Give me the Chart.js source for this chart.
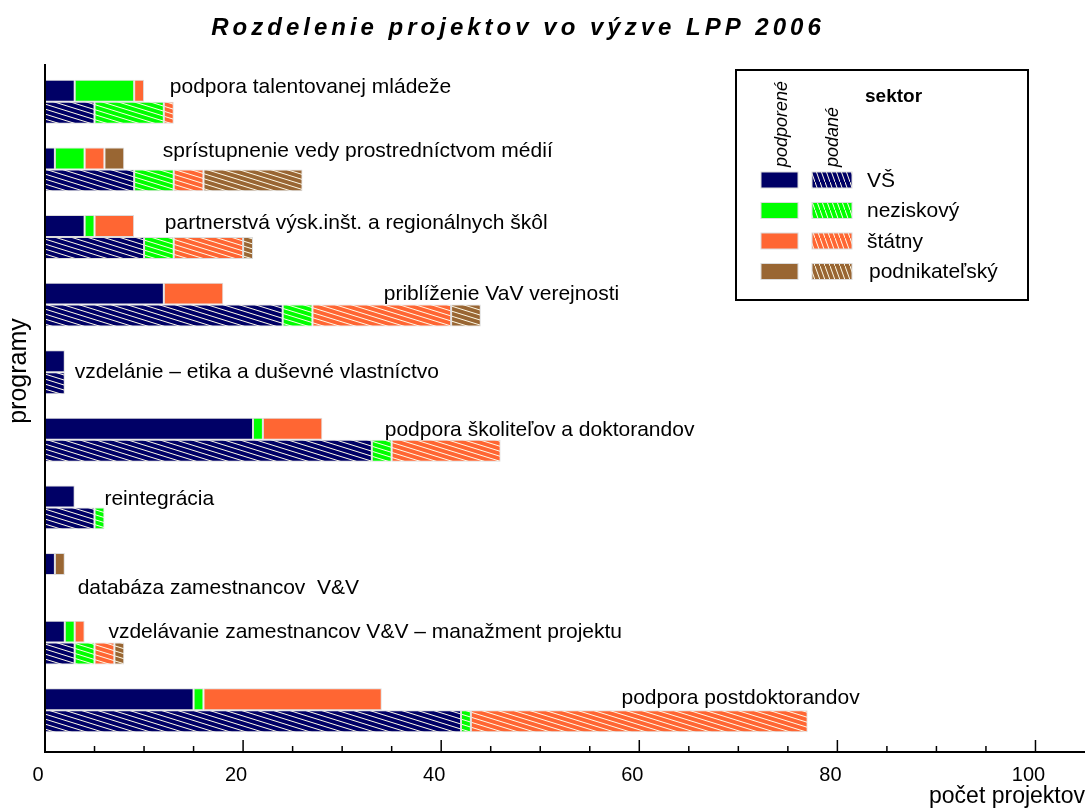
<!DOCTYPE html>
<html>
<head>
<meta charset="utf-8">
<script src="https://cdn.jsdelivr.net/npm/chart.js@4"></script>
<style>
  body { margin: 0; background: #fff; }
  canvas { display: block; }
</style>
</head>
<body>
<canvas id="graf" width="1090" height="810"></canvas>
<script>
// programy vo výzve
const programy = [
    'podpora talentovanej mládeže',
    'sprístupnenie vedy prostredníctvom médií',
    'partnerstvá výsk.inšt. a regionálnych škôl',
    'priblíženie VaV verejnosti',
    'vzdelánie – etika a duševné vlastníctvo',
    'podpora školiteľov a doktorandov',
    'reintegrácia',
    'databáza zamestnancov  V&V',
    'vzdelávanie zamestnancov V&V – manažment projektu',
    'podpora postdoktorandov'
];
const sektory = ['VŠ', 'neziskový', 'štátny', 'podnikateľský'];

// podporené projekty podľa sektora
const podporeneVS = [3, 1, 4, 12, 2, 21, 3, 1, 2, 15];
const podporeneNezisk = [6, 3, 1, 0, 0, 1, 0, 0, 1, 1];
const podporeneStatny = [1, 2, 4, 6, 0, 6, 0, 0, 1, 18];
const podporenePodnik = [0, 2, 0, 0, 0, 0, 0, 1, 0, 0];

// podané projekty podľa sektora
const podaneVS = [5, 9, 10, 24, 2, 33, 5, 0, 3, 42];
const podaneNezisk = [7, 4, 3, 3, 0, 2, 1, 0, 2, 1];
const podaneStatny = [1, 3, 7, 14, 0, 11, 0, 0, 2, 34];
const podanePodnik = [0, 10, 1, 3, 0, 0, 0, 0, 1, 0];

const xTicky = [0, 20, 40, 60, 80, 100];

// kde stoja nazvy programov (x v pocte projektov, posun v px)
const popisX = [12.6, 11.9, 12.1, 34.2, 3.0, 34.3, 6.0, 3.3, 6.4, 58.2];
const popisDy = [-15, -18, -14, -10, 0, -10, -8, 13, -10, -12];

const farby = ['#000066', '#00ff00', '#ff6633', '#996633'];
const FONT = '"Liberation Sans", Arial, sans-serif';

// srafovanie pre podane
function srafa(farba, w, h) {
    const c = document.createElement('canvas');
    c.width = w; c.height = h;
    const g = c.getContext('2d');
    g.fillStyle = farba;
    g.fillRect(0, 0, w, h);
    g.strokeStyle = '#fffbe8';
    g.lineWidth = 1;
    for (const o of [-h, 0, h]) {
        g.beginPath();
        g.moveTo(0, o);
        g.lineTo(w, o + h);
        g.stroke();
    }
    return g.createPattern(c, 'repeat');
}
const srafyBar = farby.map(f => srafa(f, 16, 5));
const srafyLeg = farby.map(f => srafa(f, 5, 14));

const nula = arr => arr.map(v => v || null);

function sada(label, data, stack, fill) {
    return {
        label: label,
        data: nula(data),
        stack: stack,
        backgroundColor: fill,
        borderColor: '#dcdcdc',
        borderWidth: 1,
        borderSkipped: false
    };
}

const podporene = [podporeneVS, podporeneNezisk, podporeneStatny, podporenePodnik];
const podane = [podaneVS, podaneNezisk, podaneStatny, podanePodnik];

const datasets = [];
podporene.forEach((d, i) => datasets.push(sada(sektory[i] + ' podporené', d, 'podporene', farby[i])));
podane.forEach((d, i) => datasets.push(sada(sektory[i] + ' podané', d, 'podane', srafyBar[i])));

const kresba = {
    id: 'kresba',
    afterDraw(chart) {
        const { ctx, chartArea: a, scales: { x, y } } = chart;
        ctx.save();

        // osi
        const dno = a.bottom + 8;
        ctx.strokeStyle = '#000';
        ctx.lineWidth = 2;
        ctx.beginPath();
        ctx.moveTo(a.left, a.top - 4);
        ctx.lineTo(a.left, dno);
        ctx.lineTo(a.right, dno);
        ctx.stroke();
        ctx.lineWidth = 1.5;
        for (let v = 5; v < x.max; v += 5) {
            const px = x.getPixelForValue(v);
            const len = v % 20 === 0 ? 12 : 6;
            ctx.beginPath();
            ctx.moveTo(px, dno);
            ctx.lineTo(px, dno - len);
            ctx.stroke();
        }

        // nazov osi y
        ctx.fillStyle = '#000';
        ctx.save();
        ctx.translate(19, 371);
        ctx.rotate(-Math.PI / 2);
        ctx.font = '25px ' + FONT;
        ctx.textAlign = 'center';
        ctx.textBaseline = 'middle';
        ctx.fillText('programy', 0, 0);
        ctx.restore();

        // nazvy programov
        ctx.font = '21px ' + FONT;
        ctx.textAlign = 'left';
        ctx.textBaseline = 'middle';
        programy.forEach((p, i) => {
            ctx.fillText(p, x.getPixelForValue(popisX[i]), y.getPixelForValue(i) + popisDy[i]);
        });

        // titulok
        ctx.font = 'italic bold 24px ' + FONT;
        ctx.letterSpacing = '4px';
        ctx.textAlign = 'center';
        ctx.fillText('Rozdelenie projektov vo výzve LPP 2006', 518, 28);
        ctx.letterSpacing = '0px';

        // legenda
        ctx.fillStyle = '#fff';
        ctx.fillRect(736, 70, 292, 230);
        ctx.strokeStyle = '#000';
        ctx.lineWidth = 2;
        ctx.strokeRect(736, 70, 292, 230);

        ctx.fillStyle = '#000';
        ctx.font = 'bold 19px ' + FONT;
        ctx.textAlign = 'left';
        ctx.fillText('sektor', 865, 97);

        ctx.font = 'italic 18px ' + FONT;
        [['podporené', 782], ['podané', 833]].forEach(([t, cx]) => {
            ctx.save();
            ctx.translate(cx, 167);
            ctx.rotate(-Math.PI / 2);
            ctx.textAlign = 'left';
            ctx.fillText(t, 0, 0);
            ctx.restore();
        });

        ctx.font = '21px ' + FONT;
        sektory.forEach((s, i) => {
            const cy = 180 + i * 30.5;
            ctx.fillStyle = farby[i];
            ctx.fillRect(761, cy - 8, 37, 16);
            ctx.fillStyle = srafyLeg[i];
            ctx.fillRect(812, cy - 8, 40, 16);
            ctx.strokeStyle = '#dcdcdc';
            ctx.lineWidth = 1;
            ctx.strokeRect(761, cy - 8, 37, 16);
            ctx.strokeRect(812, cy - 8, 40, 16);
            ctx.fillStyle = '#000';
            ctx.fillText(s, i === 3 ? 869 : 867, cy + 1);
        });

        ctx.restore();
    }
};

new Chart(document.getElementById('graf'), {
    type: 'bar',
    data: {
        labels: programy,
        datasets: datasets
    },
    options: {
        indexAxis: 'y',
        responsive: false,
        animation: false,
        categoryPercentage: 0.65,
        barPercentage: 1.0,
        layout: {
            padding: { top: 68, right: 5, left: 0, bottom: 0 }
        },
        scales: {
            x: {
                type: 'linear',
                stacked: true,
                min: 0,
                max: 105,
                grid: { display: false, drawTicks: false },
                border: { display: false },
                afterBuildTicks: s => { s.ticks = xTicky.map(v => ({ value: v })); },
                ticks: {
                    color: '#000',
                    font: { family: FONT, size: 20 },
                    padding: 19,
                    labelOffset: -7
                },
                title: {
                    display: true,
                    text: 'počet projektov',
                    align: 'end',
                    color: '#000',
                    font: { family: FONT, size: 23 },
                    padding: 0
                },
                afterFit: s => { s.height = 66; }
            },
            y: {
                stacked: true,
                grid: { display: false, drawTicks: false },
                border: { display: false },
                ticks: { display: false },
                afterFit: s => { s.width = 45; }
            }
        },
        plugins: {
            legend: { display: false },
            tooltip: { enabled: false }
        }
    },
    plugins: [kresba]
});
</script>
</body>
</html>
